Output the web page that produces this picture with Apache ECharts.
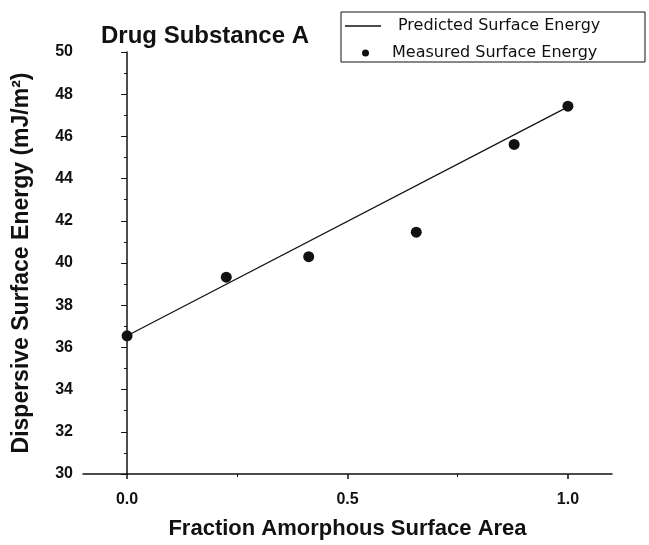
<!DOCTYPE html>
<html>
<head>
<meta charset="utf-8">
<script src="https://cdn.jsdelivr.net/npm/echarts@6/dist/echarts.min.js"></script>
<style>
  html, body { margin: 0; padding: 0; background: #fff; }
  #chart { width: 649px; height: 545px; }
</style>
</head>
<body>
<div id="chart"></div>
<script>
// measured points
var measuredX = [0, 0.225, 0.412, 0.656, 0.878, 1.0]
var measuredY = [36.55, 39.33, 40.3, 41.46, 45.62, 47.43]
// predicted line end points
var predictedX = [0, 1.0]
var predictedY = [36.55, 47.4]
var xTicks = [0, 0.5, 1.0]
var xMinorTicks = [0.25, 0.75]

var font = 'Liberation Sans, Arial, sans-serif'

function pairs (xs, ys) {
  var d = []
  for (var i = 0; i < xs.length; i++) {
    d.push([xs[i], ys[i]])
  }
  return d
}

var myChart = echarts.init(document.getElementById('chart'))
var option = {
  animation: false,
  backgroundColor: '#fff',
  title: {
    text: 'Drug Substance A',
    left: 96,
    top: 19,
    textStyle: { fontFamily: font, fontWeight: 'bold', fontSize: 24, color: '#111' }
  },
  graphic: [{
    type: 'rect',
    shape: { x: 341, y: 12, width: 304, height: 50 },
    style: { fill: 'none', stroke: '#111', lineWidth: 1 }
  }],
  legend: [{
    left: 345,
    top: 18,
    padding: 0,
    itemWidth: 36,
    itemHeight: 20,
    itemGap: 0,
    data: [{ name: 'Predicted Surface Energy', icon: 'path://M0,0H40V1.4H0Z' }],
    itemStyle: { color: '#111' },
    textStyle: { fontFamily: 'DejaVu Sans', fontSize: 16, color: '#111', padding: [0, 0, 0, 12] }
  }, {
    left: 362,
    top: 45,
    padding: 0,
    itemWidth: 7,
    itemHeight: 7,
    data: [{ name: 'Measured Surface Energy', icon: 'circle' }],
    textStyle: { fontFamily: 'DejaVu Sans', fontSize: 16, color: '#111', padding: [0, 0, 0, 18] }
  }],
  grid: { left: 83, right: 37, top: 52, bottom: 66 },
  xAxis: [{
    type: 'value',
    min: -0.1,
    max: 1.1,
    name: 'Fraction Amorphous Surface Area',
    nameLocation: 'middle',
    nameGap: 44,
    nameTextStyle: { fontFamily: font, fontWeight: 'bold', fontSize: 22, color: '#111' },
    splitLine: { show: false },
    axisLine: { show: true, lineStyle: { color: '#111', width: 1.5 } },
    axisTick: { show: true, inside: false, length: 5, customValues: xTicks, lineStyle: { color: '#111', width: 1.5 } },
    axisLabel: {
      customValues: xTicks,
      margin: 18,
      fontFamily: font,
      fontWeight: 'bold',
      fontSize: 16,
      color: '#111',
      formatter: function (v) { return v.toFixed(1) }
    }
  }, {
    type: 'value',
    min: -0.1,
    max: 1.1,
    position: 'bottom',
    splitLine: { show: false },
    axisLine: { show: false },
    axisTick: { show: true, inside: false, length: 3, customValues: xMinorTicks, lineStyle: { color: '#111', width: 1 } },
    axisLabel: { show: false }
  }],
  yAxis: {
    type: 'value',
    min: 30,
    max: 50,
    interval: 2,
    name: 'Dispersive Surface Energy (mJ/m²)',
    nameLocation: 'middle',
    nameGap: 50,
    nameTextStyle: { fontFamily: font, fontWeight: 'bold', fontSize: 23, color: '#111' },
    splitLine: { show: false },
    axisLine: { show: true, lineStyle: { color: '#111', width: 1.5 } },
    axisTick: { show: true, inside: false, length: 6, lineStyle: { color: '#111', width: 1 } },
    minorTick: { show: true, splitNumber: 2, length: 3, lineStyle: { color: '#111', width: 1 } },
    minorSplitLine: { show: false },
    axisLabel: {
      margin: 10,
      fontFamily: font,
      fontWeight: 'bold',
      fontSize: 16,
      color: '#111'
    }
  },
  series: [{
    name: 'Predicted Surface Energy',
    type: 'line',
    symbol: 'none',
    lineStyle: { color: '#111', width: 1.2 },
    itemStyle: { color: '#111' },
    data: pairs(predictedX, predictedY)
  }, {
    name: 'Measured Surface Energy',
    type: 'scatter',
    symbol: 'circle',
    symbolSize: 11,
    itemStyle: { color: '#111', opacity: 1 },
    data: pairs(measuredX, measuredY)
  }]
}
myChart.setOption(option)
</script>
</body>
</html>
